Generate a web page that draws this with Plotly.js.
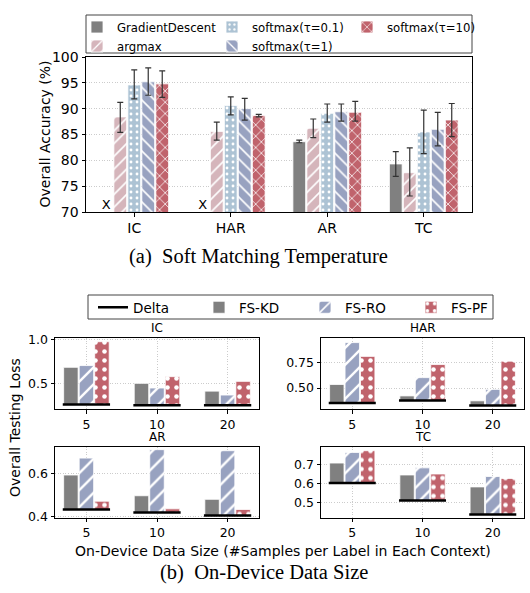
<!DOCTYPE html>
<html><head><meta charset="utf-8">
<script src="https://cdn.plot.ly/plotly-3.0.1.min.js"></script>
<style>html,body{margin:0;padding:0;background:#fff}#chart{width:530px;height:593px}</style>
</head><body><div id="chart"></div>
<script>
// ---------- (a) Soft Matching Temperature ----------
const tasks = ['IC', 'HAR', 'AR', 'TC'];
const methodNames = ['GradientDescent', 'argmax', 'softmax(τ=0.1)', 'softmax(τ=1)', 'softmax(τ=10)'];
const accGradientDescent = [null, null, 83.6, 79.3];
const accArgmax = [88.4, 85.6, 86.2, 77.6];
const accSoftmax01 = [94.6, 90.6, 89.1, 85.5];
const accSoftmax1 = [95.2, 90.0, 89.4, 86.0];
const accSoftmax10 = [94.8, 88.7, 89.3, 87.8];
const errHiGradientDescent = [null, null, 83.9, 81.7];
const errLoGradientDescent = [null, null, 83.4, 76.9];
const errHiArgmax = [91.2, 87.4, 88.0, 82.4];
const errLoArgmax = [85.4, 83.9, 84.4, 73.1];
const errHiSoftmax01 = [97.5, 92.3, 90.9, 89.7];
const errLoSoftmax01 = [91.9, 88.8, 87.4, 81.3];
const errHiSoftmax1 = [97.9, 92.0, 90.9, 89.3];
const errLoSoftmax1 = [92.6, 87.8, 87.6, 82.8];
const errHiSoftmax10 = [97.3, 88.9, 91.4, 91.0];
const errLoSoftmax10 = [92.2, 88.4, 87.6, 84.6];
const missingMark = 'X';

// ---------- (b) On-Device Data Size ----------
const dataSizes = ['5', '10', '20'];
const panelNames = ['IC', 'HAR', 'AR', 'TC'];
const seriesNames = ['Delta', 'FS-KD', 'FS-RO', 'FS-PF'];
const deltaIC = [0.255, 0.248, 0.248];
const fsKdIC = [0.685, 0.50, 0.41];
const fsRoIC = [0.705, 0.446, 0.365];
const fsPfIC = [0.98, 0.577, 0.523];
const deltaHAR = [0.353, 0.378, 0.33];
const fsKdHAR = [0.535, 0.423, 0.375];
const fsRoHAR = [0.945, 0.602, 0.487];
const fsPfHAR = [0.81, 0.73, 0.763];
const deltaAR = [0.432, 0.418, 0.403];
const fsKdAR = [0.595, 0.497, 0.48];
const fsRoAR = [0.675, 0.715, 0.71];
const fsPfAR = [0.471, 0.435, 0.432];
const deltaTC = [0.603, 0.512, 0.44];
const fsKdTC = [0.707, 0.645, 0.583];
const fsRoTC = [0.762, 0.682, 0.637];
const fsPfTC = [0.771, 0.65, 0.627];

// ---------- layout helpers ----------
const W = 530, H = 593;
const px = v => v / W;
const py = v => 1 - v / H;
const FONT = 'DejaVu Sans';
const GRID = '#cccccc';
const GRIDDASH = '1px,1.6px';

const traces = [];

// top bars
const topVals = [accGradientDescent, accArgmax, accSoftmax01, accSoftmax1, accSoftmax10];
const topHi = [errHiGradientDescent, errHiArgmax, errHiSoftmax01, errHiSoftmax1, errHiSoftmax10];
const topLo = [errLoGradientDescent, errLoArgmax, errLoSoftmax01, errLoSoftmax1, errLoSoftmax10];
const topColors = ['#808080', '#d5b5bb', '#adc3d4', '#98a2c0', '#c0636c'];
const topPatterns = ['', '/', '.', '\\', 'x'];
const topPatSize = [8, 9, 6, 9, 8];
const topRank = [1, 4, 2, 5, 3];
const topPitch = 0.145, topWidth = 0.132;
const xIdxTop = tasks.map((_, i) => i);
topVals.forEach((vals, k) => {
  const off = -2.5 * topPitch + k * topPitch + (topPitch - topWidth) / 2;
  const plus = vals.map((v, i) => v == null ? null : topHi[k][i] - v);
  const minus = vals.map((v, i) => v == null ? null : v - topLo[k][i]);
  traces.push({
    type: 'bar', x: xIdxTop, y: vals, base: 0, name: methodNames[k],
    xaxis: 'x', yaxis: 'y', legend: 'legend', legendrank: topRank[k],
    offset: off, width: topWidth,
    marker: {
      color: topColors[k], line: {color: '#ffffff', width: 0.8},
      pattern: topPatterns[k] ? {shape: topPatterns[k], fgcolor: '#ffffff', bgcolor: topColors[k], size: topPatSize[k], solidity: 0.18} : undefined
    },
    error_y: {type: 'data', symmetric: false, array: plus, arrayminus: minus, color: '#333333', thickness: 1.2, width: 3},
    hoverinfo: 'skip'
  });
});
// "X" marks for missing GradientDescent results
const gdCenter = -2.5 * topPitch + topPitch / 2;
const xMissing = [], yMissing = [];
accGradientDescent.forEach((v, i) => { if (v == null) { xMissing.push(i + gdCenter); yMissing.push(70); } });
traces.push({
  type: 'scatter', mode: 'text', x: xMissing, y: yMissing, text: xMissing.map(() => missingMark),
  textposition: 'top center', textfont: {family: FONT, size: 13, color: '#000'},
  xaxis: 'x', yaxis: 'y', showlegend: false, cliponaxis: false, hoverinfo: 'skip'
});

// bottom panels
const panels = [
  {delta: deltaIC, kd: fsKdIC, ro: fsRoIC, pf: fsPfIC},
  {delta: deltaHAR, kd: fsKdHAR, ro: fsRoHAR, pf: fsPfHAR},
  {delta: deltaAR, kd: fsKdAR, ro: fsRoAR, pf: fsPfAR},
  {delta: deltaTC, kd: fsKdTC, ro: fsRoTC, pf: fsPfTC}
];
const botColors = ['#808080', '#98a2c0', '#c0636c'];
const botPatterns = ['', '/', '.'];
const botPatSize = [8, 12, 9];
const botPitch = 0.22, botWidth = 0.205;
const xIdxBot = dataSizes.map((_, i) => i);
panels.forEach((p, pi) => {
  const xa = 'x' + (pi + 2), ya = 'y' + (pi + 2);
  [p.kd, p.ro, p.pf].forEach((vals, k) => {
    const off = -1.5 * botPitch + k * botPitch + (botPitch - botWidth) / 2;
    traces.push({
      type: 'bar', x: xIdxBot, y: vals.map((v, i) => v - p.delta[i]), base: p.delta,
      name: seriesNames[k + 1], legend: 'legend2', showlegend: pi === 0, legendrank: k + 2,
      xaxis: xa, yaxis: ya, offset: off, width: botWidth,
      marker: {
        color: botColors[k], line: {color: '#ffffff', width: 0.8},
        pattern: botPatterns[k] ? {shape: botPatterns[k], fgcolor: '#ffffff', bgcolor: botColors[k], size: botPatSize[k], solidity: 0.2} : undefined
      },
      hoverinfo: 'skip'
    });
  });
  const lx = [], ly = [];
  p.delta.forEach((d, i) => { lx.push(i - 1.5 * botPitch - 0.005, i + 1.5 * botPitch + 0.005, null); ly.push(d, d, null); });
  traces.push({
    type: 'scatter', mode: 'lines', x: lx, y: ly, name: seriesNames[0],
    legend: 'legend2', showlegend: pi === 0, legendrank: 1,
    line: {color: '#000000', width: 2.5}, xaxis: xa, yaxis: ya, hoverinfo: 'skip', cliponaxis: false
  });
});

const axBase = {
  showline: true, mirror: true, linecolor: '#000', linewidth: 1,
  ticks: 'outside', ticklen: 3.5, tickwidth: 1, tickcolor: '#000',
  zeroline: false, fixedrange: true, automargin: false
};
const panelX = [[55, 259], [321, 524], [55, 259], [321, 524]];
const panelY = [[338, 409], [338, 409], [446.5, 517.5], [446.5, 517.5]];
const panelRange = [[0.204, 1.023], [0.295, 0.99], [0.394, 0.73], [0.424, 0.793]];
const panelDtick = [0.5, 0.25, 0.2, 0.1];
const panelFmt = ['.1f', '.2f', '.1f', '.1f'];

const layout = {
  width: W, height: H,
  margin: {l: 0, r: 0, t: 0, b: 0},
  paper_bgcolor: '#fff', plot_bgcolor: '#fff',
  barmode: 'overlay',
  font: {family: FONT, color: '#000'},
  xaxis: Object.assign({}, axBase, {
    domain: [px(86), px(472)], anchor: 'y', range: [-0.5, 3.5],
    tickvals: xIdxTop, ticktext: tasks, showgrid: false, tickfont: {size: 14, family: FONT}
  }),
  yaxis: Object.assign({}, axBase, {
    domain: [py(212), py(57)], anchor: 'x', range: [70, 100], dtick: 5,
    showgrid: true, gridcolor: GRID, griddash: GRIDDASH, gridwidth: 1, tickfont: {size: 14, family: FONT}
  }),
  legend: {
    orientation: 'h', x: px(77), y: py(12.5), xanchor: 'left', yanchor: 'top',
    bgcolor: 'rgba(0,0,0,0)', borderwidth: 0, entrywidth: 90, entrywidthmode: 'pixels',
    font: {family: FONT, size: 11.7}, tracegroupgap: 0
  },
  legend2: {
    orientation: 'h', x: px(93), y: py(292), xanchor: 'left', yanchor: 'top',
    bgcolor: 'rgba(0,0,0,0)', borderwidth: 0, entrywidth: 61, entrywidthmode: 'pixels',
    font: {family: FONT, size: 13.5}
  },
  shapes: [
    {type: 'rect', xref: 'paper', yref: 'paper', x0: px(86), x1: px(472), y0: py(53), y1: py(15), line: {color: '#444', width: 1}},
    {type: 'rect', xref: 'paper', yref: 'paper', x0: px(88), x1: px(493), y0: py(319), y1: py(295), line: {color: '#444', width: 1}}
  ],
  annotations: [
    {text: 'Overall Accuracy (%)', xref: 'paper', yref: 'paper', x: px(44), y: py(134.5), textangle: -90, showarrow: false, font: {size: 14, family: FONT}, xanchor: 'center', yanchor: 'middle'},
    {text: '(a)  Soft Matching Temperature', xref: 'paper', yref: 'paper', x: px(258), y: py(256), showarrow: false, font: {size: 20.5, family: 'Liberation Serif'}, xanchor: 'center', yanchor: 'middle'},
    {text: 'Overall Testing Loss', xref: 'paper', yref: 'paper', x: px(15), y: py(428), textangle: -90, showarrow: false, font: {size: 14, family: FONT}, xanchor: 'center', yanchor: 'middle'},
    {text: 'On-Device Data Size (#Samples per Label in Each Context)', xref: 'paper', yref: 'paper', x: px(283), y: py(551), showarrow: false, font: {size: 14, family: FONT}, xanchor: 'center', yanchor: 'middle'},
    {text: '(b)  On-Device Data Size', xref: 'paper', yref: 'paper', x: px(263.5), y: py(572), showarrow: false, font: {size: 20.5, family: 'Liberation Serif'}, xanchor: 'center', yanchor: 'middle'}
  ]
};

panels.forEach((p, pi) => {
  const n = pi + 2;
  layout['xaxis' + n] = Object.assign({}, axBase, {
    domain: [px(panelX[pi][0]), px(panelX[pi][1])], anchor: 'y' + n, range: [-0.445, 2.445],
    tickvals: xIdxBot, ticktext: dataSizes, showgrid: true, gridcolor: GRID, griddash: GRIDDASH,
    tickfont: {size: 12.5, family: FONT}
  });
  layout['yaxis' + n] = Object.assign({}, axBase, {
    domain: [py(panelY[pi][1]), py(panelY[pi][0])], anchor: 'x' + n, range: panelRange[pi],
    dtick: panelDtick[pi], tickformat: panelFmt[pi], showgrid: true, gridcolor: GRID, griddash: GRIDDASH,
    tickfont: {size: 12.5, family: FONT}
  });
  layout.annotations.push({
    text: panelNames[pi], xref: 'paper', yref: 'paper',
    x: px((panelX[pi][0] + panelX[pi][1]) / 2), y: py(panelY[pi][0] - 1),
    yanchor: 'bottom', xanchor: 'center', showarrow: false, font: {size: 12, family: FONT}
  });
});

Plotly.newPlot('chart', traces, layout, {staticPlot: true, displayModeBar: false});
</script>
</body></html>
